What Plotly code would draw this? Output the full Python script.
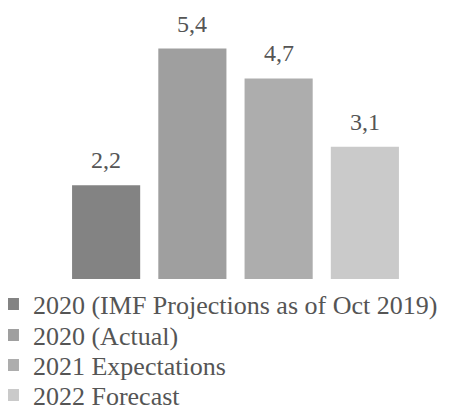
import plotly.graph_objects as go

series = ["2020 (IMF Projections as of Oct 2019)", "2020 (Actual)", "2021 Expectations", "2022 Forecast"]
values = [2.2, 5.4, 4.7, 3.1]
colors = ["#838383", "#9f9f9f", "#adadad", "#cacaca"]
legend_ids = ["legend", "legend2", "legend3", "legend4"]
legend_y = [-0.0977, -0.2188, -0.3359, -0.4531]

FONT = "Liberation Serif"
TXT = "#555555"

fig = go.Figure()
for name, v, c, lg in zip(series, values, colors, legend_ids):
    fig.add_trace(go.Bar(x=[name], y=[v], name=name, marker=dict(color=c, line=dict(width=0)),
                         legend=lg, showlegend=True, hoverinfo="skip"))
    fig.add_annotation(x=name, y=v, text=f"{v:.1f}".replace(".", ","), showarrow=False,
                       yanchor="bottom", yshift=10,
                       font=dict(family=FONT, size=24, color=TXT))

layout_legends = {}
for lg, yy in zip(legend_ids, legend_y):
    layout_legends[lg] = dict(x=-0.203, xanchor="left", y=yy, yanchor="middle",
                              bgcolor="rgba(0,0,0,0)", borderwidth=0,
                              font=dict(family=FONT, size=26, color=TXT))

fig.update_layout(
    width=453, height=408,
    margin=dict(l=55, r=53, t=15, b=137, autoexpand=False),
    paper_bgcolor="white", plot_bgcolor="white",
    barmode="overlay", bargap=0.21,
    xaxis=dict(visible=False, categoryorder="array", categoryarray=series, range=[-0.5, 3.5]),
    yaxis=dict(visible=False, range=[0, 6]),
    **layout_legends,
)
fig.write_html("out.html")
